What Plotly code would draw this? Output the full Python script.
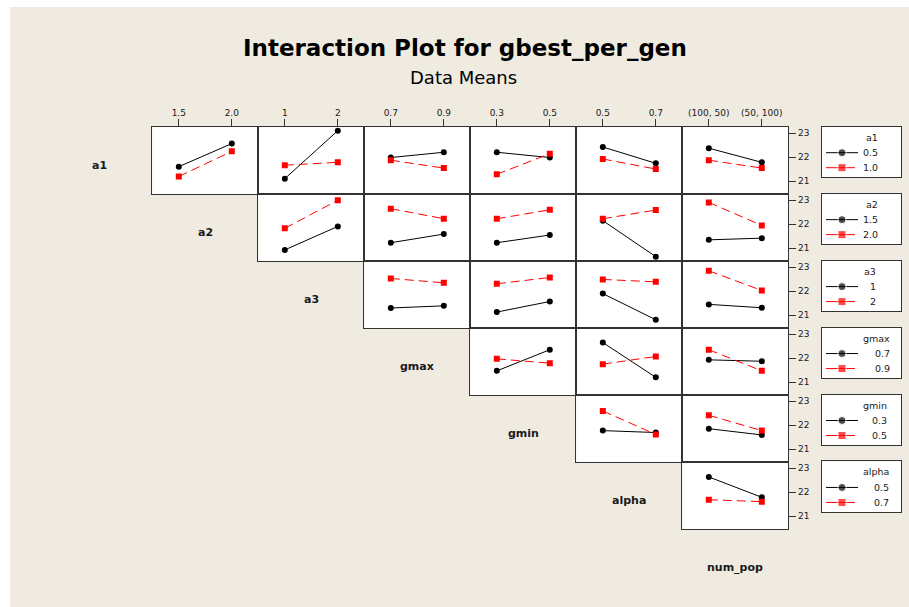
import plotly.graph_objects as go

W, H = 909, 607

# factors in plot order (rows use the first six, columns the last six)
factors = ["a1", "a2", "a3", "gmax", "gmin", "alpha", "num_pop"]
factor_levels = [
    ["0.5", "1.0"],
    ["1.5", "2.0"],
    ["1", "2"],
    ["0.7", "0.9"],
    ["0.3", "0.5"],
    ["0.5", "0.7"],
    ["(100, 50)", "(50, 100)"],
]

# data means: for each row factor, one [low, high] pair per column factor
a1_lo = [[21.61, 22.57], [21.11, 23.11], [21.99, 22.21], [22.21, 21.99], [22.43, 21.75], [22.38, 21.79]]
a1_hi = [[21.20, 22.25], [21.67, 21.79], [21.88, 21.55], [21.29, 22.15], [21.93, 21.51], [21.88, 21.55]]
a2_lo = [[20.93, 21.91], [21.23, 21.59], [21.23, 21.55], [22.15, 20.65], [21.35, 21.42]]
a2_hi = [[21.83, 23.00], [22.65, 22.23], [22.23, 22.60], [22.23, 22.59], [22.91, 21.95]]
a3_lo = [[21.30, 21.39], [21.13, 21.57], [21.90, 20.81], [21.45, 21.31]]
a3_hi = [[22.53, 22.35], [22.31, 22.57], [22.49, 22.39], [22.85, 22.03]]
gmax_lo = [[21.47, 22.35], [22.65, 21.20], [21.93, 21.87]]
gmax_hi = [[21.97, 21.79], [21.75, 22.07], [22.35, 21.47]]
gmin_lo = [[21.77, 21.69], [21.85, 21.59]]
gmin_hi = [[22.59, 21.61], [22.41, 21.77]]
alpha_lo = [[22.63, 21.78]]
alpha_hi = [[21.68, 21.60]]

row_lo = [a1_lo, a2_lo, a3_lo, gmax_lo, gmin_lo, alpha_lo]
row_hi = [a1_hi, a2_hi, a3_hi, gmax_hi, gmin_hi, alpha_hi]

y_ticks = [21, 22, 23]

# geometry (pixels)
GRID_L, COL_W = 152.3, 106.0
GRID_T, ROW_H = 127.3, 66.95
LEG_L, LEG_R, LEG_H = 821.7, 901.0, 50.6

BG = "#EFEBE1"
EDGE = "#333333"
TXT = "#1a1a1a"
FONT = "DejaVu Sans"


def px_x(x):
    return x / W


def px_y(y):
    return 1 - y / H


fig = go.Figure()
layout_axes = {}
n = 0
for i in range(6):
    for j in range(i, 6):
        n += 1
        lo = row_lo[i][j - i]
        hi = row_hi[i][j - i]
        fig.add_trace(go.Scatter(
            x=[0, 1], y=lo, mode="lines+markers",
            line=dict(color="black", width=1),
            marker=dict(symbol="circle", size=6, color="black"),
            xaxis=f"x{n}", yaxis=f"y{n}", showlegend=False,
            hovertemplate=f"{factors[i]}={factor_levels[i][0]}<br>%{{y:.2f}}<extra></extra>",
        ))
        fig.add_trace(go.Scatter(
            x=[0, 1], y=hi, mode="lines+markers",
            line=dict(color="#FF0000", width=1, dash="9px,5px"),
            marker=dict(symbol="square", size=6, color="#FF0000"),
            xaxis=f"x{n}", yaxis=f"y{n}", showlegend=False,
            hovertemplate=f"{factors[i]}={factor_levels[i][1]}<br>%{{y:.2f}}<extra></extra>",
        ))

        x0 = GRID_L + COL_W * j
        y0 = GRID_T + ROW_H * i
        key = "" if n == 1 else str(n)
        layout_axes[f"xaxis{key}"] = dict(
            domain=[px_x(x0), px_x(x0 + COL_W)],
            range=[-0.5, 1.5], anchor=f"y{n}", side="top",
            showgrid=False, zeroline=False,
            showline=True, mirror=True, linecolor=EDGE, linewidth=1,
            tickvals=[0, 1], ticktext=factor_levels[j + 1],
            ticks="outside" if i == 0 else "", ticklen=7, tickcolor=EDGE,
            showticklabels=(i == 0),
            tickfont=dict(family=FONT, size=9, color=TXT),
        )
        layout_axes[f"yaxis{key}"] = dict(
            domain=[px_y(y0 + ROW_H), px_y(y0)],
            range=[20.46, 23.25], anchor=f"x{n}", side="right",
            showgrid=False, zeroline=False,
            showline=True, mirror=True, linecolor=EDGE, linewidth=1,
            tickvals=y_ticks,
            ticks="outside" if j == 5 else "", ticklen=7, tickcolor=EDGE,
            showticklabels=(j == 5),
            tickfont=dict(family=FONT, size=9, color=TXT),
        )

annotations = []

# legend boxes, drawn as small subplots
leg_right = [880, 880, 878, 892, 889, 891]
for i in range(6):
    n += 1
    top = GRID_T + ROW_H * i - 0.6
    fig.add_trace(go.Scatter(
        x=[4.3, 20.3, 36.3], y=[26, 26, 26], mode="lines+markers",
        line=dict(color="black", width=1),
        marker=dict(symbol="circle", size=[0, 8, 0], color="black"),
        xaxis=f"x{n}", yaxis=f"y{n}", showlegend=False, hoverinfo="skip",
    ))
    fig.add_trace(go.Scatter(
        x=[4.3, 20.3, 33.3], y=[41, 41, 41], mode="lines+markers",
        line=dict(color="#FF0000", width=1),
        marker=dict(symbol="square", size=[0, 8, 0], color="#FF0000"),
        xaxis=f"x{n}", yaxis=f"y{n}", showlegend=False, hoverinfo="skip",
    ))
    layout_axes[f"xaxis{n}"] = dict(
        domain=[px_x(LEG_L), px_x(LEG_R)], range=[0, LEG_R - LEG_L],
        anchor=f"y{n}", showgrid=False, zeroline=False, showticklabels=False,
        ticks="", showline=True, mirror=True, linecolor=EDGE, linewidth=1,
    )
    layout_axes[f"yaxis{n}"] = dict(
        domain=[px_y(top + LEG_H), px_y(top)], range=[LEG_H, 0],
        anchor=f"x{n}", showgrid=False, zeroline=False, showticklabels=False,
        ticks="", showline=True, mirror=True, linecolor=EDGE, linewidth=1,
    )
    rx = leg_right[i] - LEG_L
    annotations.append(dict(
        xref=f"x{n}", yref=f"y{n}", x=rx, y=10.5, text=factors[i],
        xanchor="right", yanchor="middle", showarrow=False,
        font=dict(family=FONT, size=9.5, color=TXT),
    ))
    for k, yy in enumerate([26, 41]):
        annotations.append(dict(
            xref=f"x{n}", yref=f"y{n}", x=rx, y=yy, text=factor_levels[i][k],
            xanchor="right", yanchor="middle", showarrow=False,
            font=dict(family=FONT, size=9.5, color=TXT),
        ))

# factor names along the diagonal
for k, name in enumerate(factors):
    annotations.append(dict(
        xref="paper", yref="paper",
        x=px_x(GRID_L + COL_W * (k - 0.5)),
        y=px_y(GRID_T + ROW_H * (k + 0.5) + 5),
        text=f"<b>{name}</b>", showarrow=False,
        xanchor="center", yanchor="middle",
        font=dict(family=FONT, size=11, color=TXT),
    ))

annotations.append(dict(
    xref="paper", yref="paper", x=px_x(465), y=px_y(48),
    text="<b>Interaction Plot for gbest_per_gen</b>", showarrow=False,
    xanchor="center", yanchor="middle",
    font=dict(family=FONT, size=23, color="black"),
))
annotations.append(dict(
    xref="paper", yref="paper", x=px_x(463), y=px_y(77),
    text="Data Means", showarrow=False,
    xanchor="center", yanchor="middle",
    font=dict(family=FONT, size=18, color="black"),
))

shapes = [
    dict(type="rect", xref="paper", yref="paper", x0=0, x1=px_x(10), y0=0, y1=1,
         fillcolor="white", line_width=0, layer="below"),
    dict(type="rect", xref="paper", yref="paper", x0=0, x1=1, y0=px_y(7), y1=1,
         fillcolor="white", line_width=0, layer="below"),
]

fig.update_layout(
    width=W, height=H,
    margin=dict(l=0, r=0, t=0, b=0),
    paper_bgcolor=BG, plot_bgcolor="white",
    annotations=annotations, shapes=shapes,
    showlegend=False,
    **layout_axes,
)

# drop the browser's default page margin so the figure sits at the window corner
fig.write_html(
    "out.html",
    config={"displayModeBar": False},
    post_script=(
        "document.body.style.margin='0';"
        "document.body.style.overflow='hidden';"
        f"document.body.style.background='{BG}';"
        f"document.documentElement.style.background='{BG}';"
    ),
)
